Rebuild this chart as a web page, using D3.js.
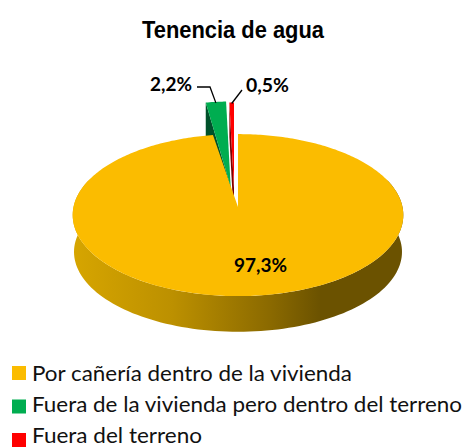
<!DOCTYPE html>
<html><head><meta charset="utf-8">
<script src="https://cdn.jsdelivr.net/npm/d3@7"></script>
<style>html,body{margin:0;padding:0;background:#fff;overflow:hidden}svg{display:block}text{font-family:Lato,"Noto Sans",sans-serif}</style>
</head><body><div id="c"></div>
<script>
const categories = ["Por cañería dentro de la vivienda","Fuera de la vivienda pero dentro del terreno","Fuera del terreno"];
const values = [97.3,2.2,0.5];
const valueLabels = ["97,3%","2,2%","0,5%"];
const colors = ["#FBBC00","#00AD50","#FF0000"];
const darkColors = ["#6B5200","#00512A","#7A0000"];
const title = "Tenencia de agua";

const W=465,H=447;
const svg=d3.select("#c").append("svg").attr("width",W).attr("height",H);
const defs=svg.append("defs");
const grad=defs.append("linearGradient").attr("id","rim").attr("gradientUnits","userSpaceOnUse")
  .attr("x1",74).attr("x2",403).attr("y1",0).attr("y2",0);
[[0,"#D6A500"],[0.3,"#BC9000"],[0.6,"#8A6900"],[0.75,"#6B5200"],[1,"#6B5200"]]
  .forEach(d=>grad.append("stop").attr("offset",d[0]).attr("stop-color",d[1]));

const slices=d3.pie().sort(null).value(d=>d).startAngle(0).endAngle(2*Math.PI)(values);
const line=d3.line().x(d=>d[0]).y(d=>d[1]);
const k=0.1;
function proj(a,o){
  const u=Math.sin(a),v=-Math.cos(a),s=1+k*v;
  return [o.x+o.rx*u*s, o.y+o.ry*v*s+(o.dy||0)];
}
const angles=(a,b,n=120)=>d3.range(n+1).map(i=>a+(b-a)*i/n);
const deg=Math.PI/180;

const main={x:238,y:207,rx:164.5,ry:81};
const small=[null,{x:230.7,y:187,rx:164,ry:95},{x:234,y:188,rx:164,ry:95}];

// yellow rim
const rimA=angles(70*deg,290*deg);
const rimTop=rimA.map(a=>proj(a,main));
const rimBot=rimA.map(a=>proj(a,{x:main.x,y:main.y,rx:main.rx*.992,ry:main.ry*.985,dy:37})).reverse();
svg.append("path").attr("d",line(rimTop.concat(rimBot))+"Z").attr("fill","url(#rim)");

// exploded small slices: cut face then top
[1,2].forEach(i=>{
  const s=slices[i],o=small[i];
  const p=proj(s.startAngle,o);
  svg.append("path").attr("d",line([p,[p[0],p[1]+34],[o.x,o.y+34],[o.x,o.y]])+"Z").attr("fill",darkColors[i]);
});

// yellow top face
const yTop=angles(slices[0].startAngle,slices[0].endAngle,360).map(a=>proj(a,main));
svg.append("path").attr("d",line([[main.x,main.y],...yTop])+"Z").attr("fill",colors[0]);

[1,2].forEach(i=>{
  const s=slices[i],o=small[i];
  const top=angles(s.startAngle,s.endAngle,10).map(a=>proj(a,o));
  svg.append("path").attr("d",line([[o.x,o.y],...top])+"Z").attr("fill",colors[i]);
});

// leader lines
const g2=proj((slices[1].startAngle+slices[1].endAngle)/2,small[1]);
svg.append("path").attr("d",line([[197,87],[210,87],[g2[0],g2[1]+1]])).attr("fill","none").attr("stroke","#000").attr("stroke-width",1.3);
const r2=proj((slices[2].startAngle+slices[2].endAngle)/2,small[2]);
svg.append("path").attr("d",line([[242,90],[r2[0],r2[1]+1]])).attr("fill","none").attr("stroke","#000").attr("stroke-width",1.3);

// text
svg.append("text").attr("x",233).attr("y",37.5).attr("text-anchor","middle").attr("font-size",24.5).attr("font-weight",700)
  .style("font-family","'Liberation Sans',Arial,sans-serif")
  .attr("textLength",182).attr("lengthAdjust","spacingAndGlyphs").attr("fill","#000").text(title);
const labelPos=[[260.5,272],[171,91],[267.5,92]];
const labelW=[53,42,43];
valueLabels.forEach((t,i)=>svg.append("text").attr("x",labelPos[i][0]).attr("y",labelPos[i][1]).attr("text-anchor","middle")
  .attr("font-size",18.5).attr("font-weight",700).attr("textLength",labelW[i]).attr("lengthAdjust","spacingAndGlyphs").attr("fill","#000").text(t));

// legend
const ly=d3.scalePoint().domain(categories).range([380.5,442.5]);
const swatchY=d3.scalePoint().domain(categories).range([366,433]);
const lenW=[320,430,170];
categories.forEach((c,i)=>{
  svg.append("rect").attr("x",12).attr("y",swatchY(c)).attr("width",14).attr("height",14).attr("fill",colors[i]);
  svg.append("text").attr("x",32).attr("y",ly(c)).attr("font-size",20.5).attr("textLength",lenW[i]).attr("lengthAdjust","spacingAndGlyphs").attr("fill","#111").text(c);
});
</script></body></html>
